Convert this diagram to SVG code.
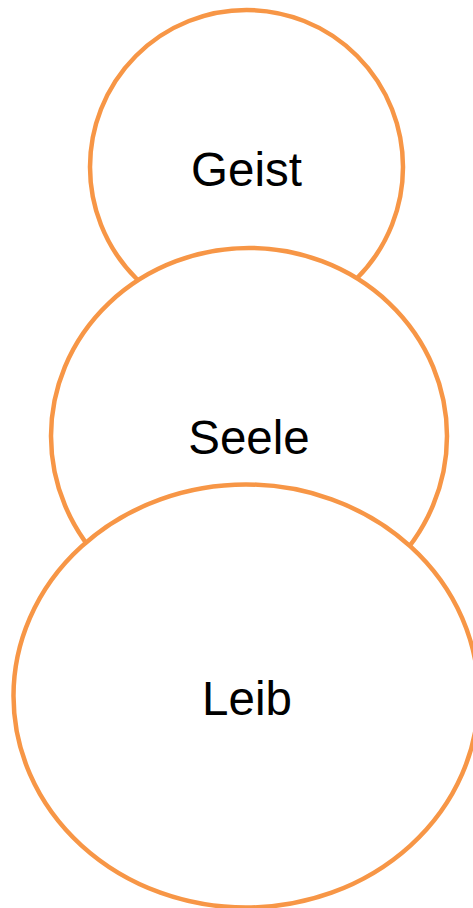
<svg xmlns="http://www.w3.org/2000/svg" width="473" height="908" viewBox="0 0 473 908">
  <style>
    .ring { fill: #ffffff; stroke: #F79646; stroke-width: 4.5; }
    .label { font-family: "Liberation Sans", Arial, sans-serif; font-size: 47.5px; fill: #000000; text-anchor: middle; }
  </style>
  <rect width="473" height="908" fill="#ffffff"/>
  <g id="geist">
    <ellipse class="ring" cx="246.5" cy="167" rx="156.5" ry="157"/>
    <text class="label" x="246.5" y="186">Geist</text>
  </g>
  <g id="seele">
    <ellipse class="ring" cx="249" cy="436" rx="198" ry="188"/>
    <text class="label" x="249" y="454">Seele</text>
  </g>
  <g id="leib">
    <ellipse class="ring" cx="246" cy="696" rx="232.5" ry="211.5"/>
    <text class="label" x="247" y="715">Leib</text>
  </g>
</svg>
